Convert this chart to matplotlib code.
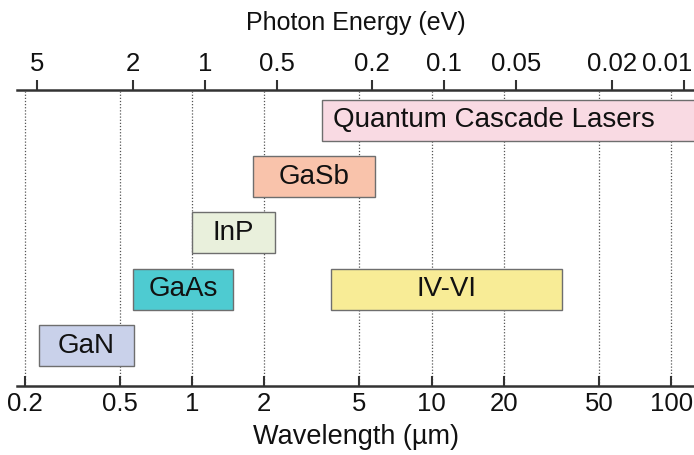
import matplotlib
matplotlib.use("Agg")
import matplotlib.pyplot as plt
import numpy as np
from matplotlib.ticker import NullLocator

# ---- data ----
labels = ["GaN", "GaAs", "InP", "GaSb", "IV-VI", "Quantum Cascade Lasers"]
lam_start = [0.23, 0.567, 1.0, 1.8, 3.8, 3.5]      # µm
lam_end = [0.572, 1.49, 2.23, 5.8, 35.0, 130.0]    # µm
rows = [1, 2, 3, 4, 2, 5]
colors = ["#C9D1EA", "#4ECBD1", "#E9F0DC", "#F9C3AB", "#F8EC96", "#F9DAE3"]

wl_ticks = [0.2, 0.5, 1, 2, 5, 10, 20, 50, 100]
wl_tick_labels = ["0.2", "0.5", "1", "2", "5", "10", "20", "50", "100"]
ev_ticks = [5, 2, 1, 0.5, 0.2, 0.1, 0.05, 0.02, 0.01]
ev_tick_labels = ["5", "2", "1", "0.5", "0.2", "0.1", "0.05", "0.02", "0.01"]
HC = 1.13  # wavelength(µm) * energy(eV) as laid out in the reference's top axis

plt.rcParams["font.family"] = ["Liberation Sans", "DejaVu Sans"]

W, H = 694, 455
fig = plt.figure(figsize=(W / 100, H / 100), dpi=100)
left_px, right_px, top_px, bot_px = 17.3, 694, 90, 386
ax = fig.add_axes([left_px / W, 1 - bot_px / H, (right_px - left_px) / W, (bot_px - top_px) / H])

ax.set_xscale("log")
ax.set_xlim(0.1866, 124.5)
ax.set_ylim(0.287, 5.535)

edge = "#6E6E6E"
label_fs = 20
for lab, s, e, r, c in zip(labels, lam_start, lam_end, rows, colors):
    ax.barh(r, e - s, left=s, height=0.727, color=c, edgecolor=edge, linewidth=1.0, zorder=3)
    if lab == "Quantum Cascade Lasers":
        ax.annotate(lab, xy=(s, r), xytext=(7.5, 0), textcoords="offset points",
                    ha="left", va="center", fontsize=label_fs, color="#111111", zorder=4)
    else:
        ax.text(np.sqrt(s * e), r, lab, ha="center", va="center", fontsize=label_fs,
                color="#111111", zorder=4)

ax.set_xticks(wl_ticks, wl_tick_labels)
ax.xaxis.set_minor_locator(NullLocator())
ax.set_yticks([])
ax.grid(axis="x", which="major", linestyle=(0, (1, 1.5)), color="#555555", linewidth=0.9)
ax.set_axisbelow(True)
for sp in ("left", "right", "top"):
    ax.spines[sp].set_visible(False)
ax.spines["bottom"].set_linewidth(1.8)
ax.spines["bottom"].set_color("#333333")
ax.tick_params(axis="x", which="major", direction="in", length=7, width=1.5,
               color="#333333", labelsize=18.5, pad=4, labelcolor="#111111")
ax.set_xlabel("Wavelength (µm)", fontsize=19.5, labelpad=6, color="#111111")


def to_ev(x):
    x = np.asarray(x, dtype=float)
    with np.errstate(divide="ignore"):
        return HC / x


sec = ax.secondary_xaxis("top", functions=(to_ev, to_ev))
# the last label ("0.01") is drawn separately so it can sit inside the figure edge
sec.set_xticks(ev_ticks, ev_tick_labels[:-1] + [""])
sec.xaxis.set_minor_locator(NullLocator())
sec.tick_params(axis="x", which="major", direction="out", length=7, width=1.5,
                color="#333333", labelsize=18.5, pad=3, labelcolor="#111111")
sec.spines["top"].set_linewidth(1.8)
sec.spines["top"].set_color("#333333")
sec.set_xlabel("Photon Energy (eV)", fontsize=18, labelpad=16, color="#111111")

ax.annotate(ev_tick_labels[-1], xy=(HC / ev_ticks[-1], 1.0),
            xycoords=ax.get_xaxis_transform(), xytext=(6, 10),
            textcoords="offset points", ha="right", va="bottom",
            fontsize=18.5, color="#111111", annotation_clip=False)

fig.savefig("out.png", dpi=100)
